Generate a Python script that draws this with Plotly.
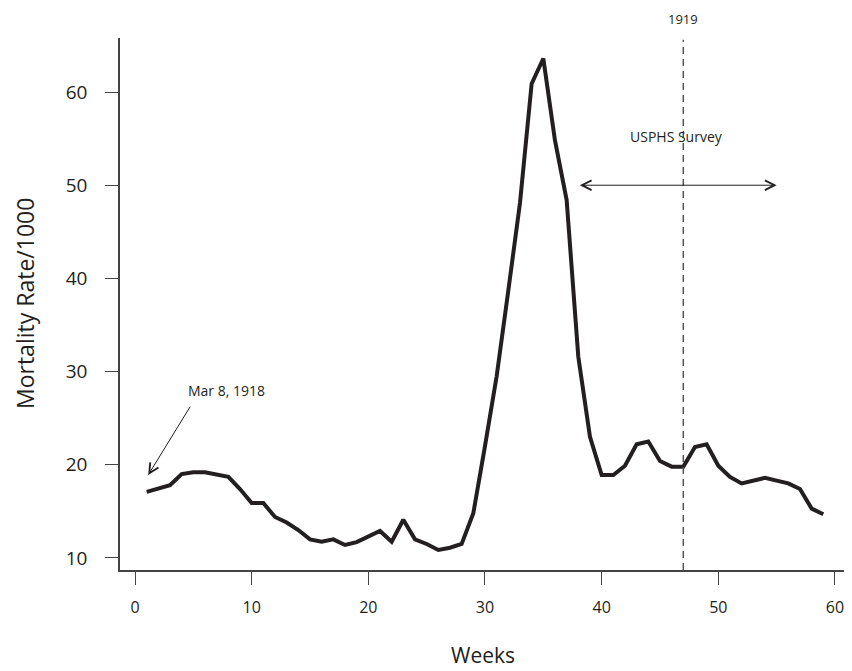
import plotly.graph_objects as go

weeks = list(range(1, 60))
mortality = [17.1, 17.45, 17.8, 19.0, 19.2, 19.2, 19.0, 18.7, 17.4, 15.9,
             15.9, 14.4, 13.8, 13.0, 12.0, 11.75, 12.0, 11.4, 11.7, 12.3,
             12.9, 11.75, 14.1, 12.0, 11.5, 10.86, 11.1, 11.5, 14.8, 22.0,
             29.5, 38.7, 48.1, 60.9, 63.6, 54.8, 48.4, 31.6, 23.0, 18.9,
             18.9, 19.9, 22.2, 22.5, 20.4, 19.8, 19.8, 21.9, 22.2, 19.9,
             18.7, 18.0, 18.3, 18.6, 18.3, 18.0, 17.4, 15.3, 14.7]

x_ticks = [0, 10, 20, 30, 40, 50, 60]
y_ticks = [10, 20, 30, 40, 50, 60]

survey_week = 47
survey_start, survey_end, survey_level = 38, 55, 50
FONT = "Open Sans"
INK = "#231f20"

# the page body has an 8px margin; size the figure so it lands where the reference is
PAGE = 8
W, H = 852 - PAGE, 671 - PAGE
L, T, R = 120 - PAGE, 38 - PAGE, 7
B = H - (570 - PAGE)

fig = go.Figure()
fig.add_trace(go.Scatter(x=weeks, y=mortality, mode="lines",
                         line=dict(color=INK, width=4, shape="linear"),
                         showlegend=False, hoverinfo="skip"))

fig.add_shape(type="line", xref="x", yref="y", x0=survey_week, x1=survey_week,
              y0=8.71, y1=65.6, line=dict(color="#555555", width=1.5, dash="7px,5px"))

fig.add_annotation(x=survey_week, y=1, xref="x", yref="paper", yshift=19,
                   text="1919", showarrow=False, yanchor="middle",
                   font=dict(family=FONT, size=13, color=INK))
fig.add_annotation(x=46.4, y=55.2, xref="x", yref="y", text="USPHS Survey",
                   showarrow=False, font=dict(family=FONT, size=14, color=INK))
fig.add_annotation(x=survey_end, y=survey_level, ax=survey_start, ay=survey_level,
                   xref="x", yref="y", axref="x", ayref="y", text="",
                   showarrow=True, arrowside="end+start", arrowhead=5, startarrowhead=5,
                   arrowsize=1.9, startarrowsize=1.9, arrowwidth=1, arrowcolor=INK,
                   standoff=0, startstandoff=0)

fig.add_annotation(x=7.85, y=28.0, xref="x", yref="y", text="Mar 8, 1918",
                   showarrow=False, font=dict(family=FONT, size=14, color=INK))
fig.add_annotation(x=1.13, y=18.9, ax=4.81, ay=26.4, xref="x", yref="y",
                   axref="x", ayref="y", text="", showarrow=True, arrowhead=5,
                   arrowsize=1.9, arrowwidth=1, arrowcolor=INK, standoff=0)

fig.add_annotation(x=0.5, y=1, xref="paper", yref="paper", yshift=-(655 - 38),
                   text="Weeks", showarrow=False,
                   font=dict(family=FONT, size=21, color=INK), yanchor="middle")
fig.add_annotation(x=0, y=0.5, xref="paper", yref="paper", xshift=-(120 - 25),
                   text="Mortality Rate/1000", textangle=-90, showarrow=False,
                   font=dict(family=FONT, size=23, color=INK), xanchor="center")

axis_common = dict(showgrid=False, zeroline=False, showline=True, linecolor="#444444",
                   linewidth=1.5, ticks="outside", ticklen=13, tickwidth=1.3,
                   tickcolor="#444444", ticklabeloverflow="allow")
fig.update_xaxes(range=[-1.286, 60.86], tickvals=x_ticks, ticklabelstandoff=9,
                 tickfont=dict(family=FONT, size=16, color=INK), **axis_common)
fig.update_yaxes(range=[8.71, 65.8], tickvals=y_ticks, ticklabelstandoff=14,
                 tickfont=dict(family=FONT, size=19, color=INK), **axis_common)

fig.update_layout(width=W, height=H, margin=dict(l=L, r=R, t=T, b=B),
                  plot_bgcolor="white", paper_bgcolor="white",
                  font=dict(family=FONT, color=INK))

fig.write_html("out.html")
